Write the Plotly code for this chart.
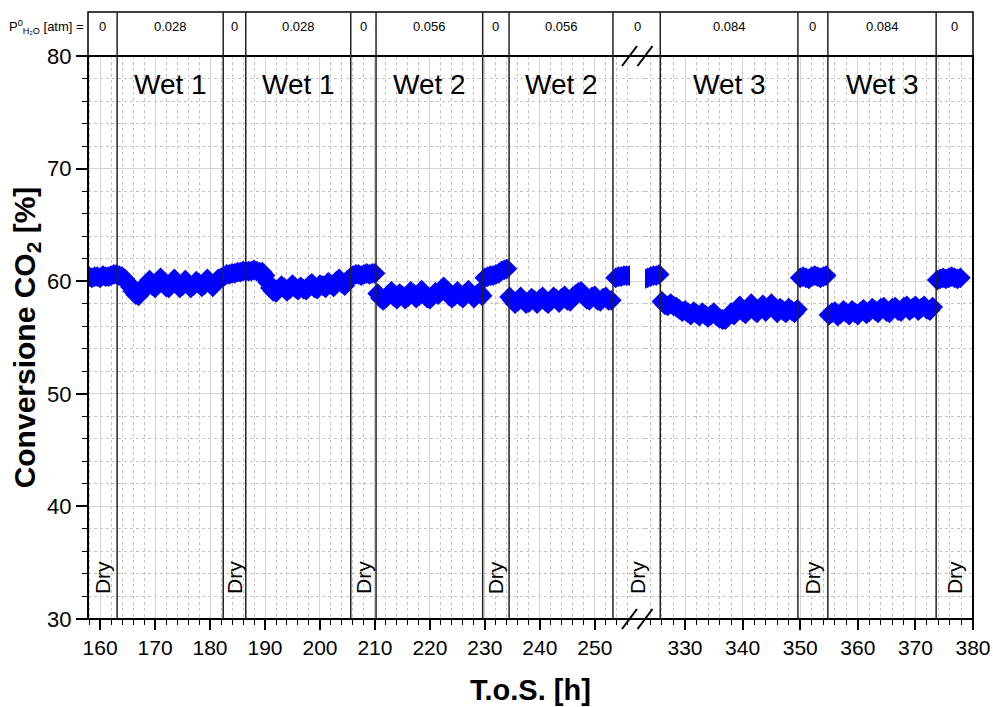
import plotly.graph_objects as go

# ---------------- data ----------------
# phase boundaries (h): left axis segment and right axis segment (broken axis)
bounds_left = [163.1, 182.4, 186.5, 205.6, 210.2, 229.6, 234.4, 253.3]
bounds_right = [325.7, 349.6, 354.8, 373.6]
x_left_range = [157.8, 256.4]
x_right_range = [323.05, 380.0]

p_labels = ["0", "0.028", "0", "0.028", "0", "0.056", "0", "0.056", "0",
            "0.084", "0", "0.084", "0"]
phase_labels = ["Dry", "Wet 1", "Dry", "Wet 1", "Dry", "Wet 2", "Dry", "Wet 2",
                "Dry", "Wet 3", "Dry", "Wet 3", "Dry"]

SAMPLE_STEP = 0.5  # h between logged points

t0_dry0, v_dry0 = 156.0, [60.4, 60.3, 60.4, 60.5, 60.4, 60.3, 60.4, 60.4, 60.3, 60.5,
                          60.4, 60.4, 60.5, 60.6, 60.6]
t0_wet1a, v_wet1a = 163.5, [60.5, 60.4, 60.2, 59.9, 59.5, 59.1, 58.8, 58.7, 59.0, 59.4,
                            59.8, 60.1, 59.6, 59.4, 59.9, 60.3, 59.9, 59.5, 59.4, 59.8,
                            60.2, 59.8, 59.4, 59.6, 60.1, 59.7, 59.4, 59.6, 60.0, 59.8,
                            59.5, 59.7, 60.2, 59.8, 59.5, 59.9, 60.2, 60.3, 60.4]
t0_dry1, v_dry1 = 183.0, [60.6, 60.6, 60.7, 60.7, 60.8, 60.8, 60.9, 60.9]
t0_wet1b, v_wet1b = 187.0, [60.9, 60.9, 61.0, 60.9, 60.8, 60.8, 60.5, 59.9, 59.4, 59.1,
                            59.0, 59.3, 59.6, 59.4, 59.1, 59.3, 59.7, 59.4, 59.2, 59.5,
                            59.3, 59.2, 59.6, 59.8, 59.4, 59.3, 59.7, 59.6, 59.4, 59.9,
                            59.7, 59.5, 60.0, 60.2, 59.8, 59.6, 60.1, 60.3]
t0_dry2, v_dry2 = 206.0, [60.5, 60.6, 60.6, 60.5, 60.6, 60.7, 60.6, 60.7, 60.7]
t0_wet2a, v_wet2a = 210.5, [58.9, 58.5, 58.3, 58.5, 58.8, 59.1, 58.6, 58.4, 58.9, 58.7,
                            58.4, 58.6, 59.1, 58.9, 58.5, 58.7, 59.2, 58.8, 58.5, 58.4,
                            58.7, 59.0, 58.8, 59.2, 59.5, 59.1, 58.7, 58.5, 58.7, 59.1,
                            58.7, 58.5, 58.8, 59.2, 58.8, 58.5, 58.8, 59.0, 58.7]
t0_dry3, v_dry3 = 230.0, [60.3, 60.4, 60.5, 60.5, 60.6, 60.7, 60.9, 61.0, 61.1]
t0_wet2b, v_wet2b = 234.5, [58.6, 58.3, 58.0, 58.2, 58.6, 58.3, 58.0, 58.1, 58.5, 58.3,
                            58.0, 58.4, 58.6, 58.2, 58.0, 58.3, 58.6, 58.4, 58.1, 58.5,
                            58.7, 58.3, 58.2, 58.6, 58.8, 59.0, 59.1, 58.7, 58.4, 58.3,
                            58.6, 58.7, 58.3, 58.2, 58.5, 58.6, 58.3, 58.3]
t0_dry4a, v_dry4a = 253.8, [60.3, 60.4, 60.4, 60.5, 60.5, 60.5]
# after the axis break
t0_dry4b, v_dry4b = 323.0, [60.2, 60.3, 60.4, 60.5, 60.5, 60.6]
t0_wet3a, v_wet3a = 326.0, [58.2, 57.9, 57.8, 58.0, 57.8, 57.7, 57.5, 57.3, 57.4, 57.2,
                            57.0, 57.3, 57.1, 56.9, 57.2, 57.0, 56.8, 57.0, 57.2, 56.9,
                            56.7, 56.6, 56.6, 56.9, 57.2, 57.0, 57.4, 57.8, 57.3, 57.1,
                            57.5, 58.0, 57.4, 57.2, 57.6, 57.9, 57.3, 57.6, 58.0, 57.5,
                            57.2, 57.6, 57.4, 57.2, 57.6, 57.4, 57.2, 57.5]
t0_dry5, v_dry5 = 350.0, [60.3, 60.4, 60.3, 60.2, 60.4, 60.5, 60.4, 60.3, 60.4, 60.5]
t0_wet3b, v_wet3b = 355.0, [57.0, 57.2, 57.3, 56.9, 57.1, 57.4, 57.2, 57.0, 57.4, 57.2,
                            57.0, 57.3, 57.5, 57.1, 57.3, 57.6, 57.4, 57.2, 57.6, 57.7,
                            57.3, 57.2, 57.6, 57.7, 57.4, 57.3, 57.7, 57.8, 57.4, 57.6,
                            57.8, 57.4, 57.6, 57.8, 57.5, 57.4, 57.7]
t0_dry6, v_dry6 = 373.8, [60.1, 60.2, 60.3, 60.2, 60.3, 60.4, 60.3, 60.2, 60.3]

left_segments = [(t0_dry0, v_dry0), (t0_wet1a, v_wet1a), (t0_dry1, v_dry1),
                 (t0_wet1b, v_wet1b), (t0_dry2, v_dry2), (t0_wet2a, v_wet2a),
                 (t0_dry3, v_dry3), (t0_wet2b, v_wet2b), (t0_dry4a, v_dry4a)]
right_segments = [(t0_dry4b, v_dry4b), (t0_wet3a, v_wet3a), (t0_dry5, v_dry5),
                  (t0_wet3b, v_wet3b), (t0_dry6, v_dry6)]


def expand(segments):
    ts, vs = [], []
    for t0, vals in segments:
        for i, v in enumerate(vals):
            ts.append(round(t0 + i * SAMPLE_STEP, 3))
            vs.append(v)
    return ts, vs


left_t, left_v = expand(left_segments)
right_t, right_v = expand(right_segments)

# ---------------- layout constants ----------------
FONT = "Liberation Sans, Arial, Helvetica, sans-serif"
BLUE = "#0000FF"
W, H = 993, 707
ML, MR, MT, MB = 88, 20, 56, 88
PW, PH = W - ML - MR, H - MT - MB
dom_left = [0.0, (630 - ML) / PW]
dom_right = [(645 - ML) / PW, 1.0]
gap_c = (dom_left[1] + dom_right[0]) / 2
table_top = 1 + 44 / PH

marker = dict(symbol="diamond", size=16, color=BLUE, line=dict(width=0))

fig = go.Figure()
fig.add_trace(go.Scatter(x=left_t, y=left_v, mode="markers", marker=marker,
                         xaxis="x", yaxis="y", showlegend=False))
fig.add_trace(go.Scatter(x=right_t, y=right_v, mode="markers", marker=marker,
                         xaxis="x2", yaxis="y", showlegend=False))
fig.add_trace(go.Scatter(x=[None], y=[None], mode="markers",
                         xaxis="x3", yaxis="y", showlegend=False, hoverinfo="skip"))

major_grid = "#d4d4d4"
minor_grid = "#c4c4c4"
tickfont = dict(family=FONT, size=21, color="black")

xcommon = dict(
    dtick=10, tick0=0, ticks="outside", ticklen=10, tickwidth=1.5, tickcolor="black",
    showline=False, zeroline=False, showgrid=True, gridcolor=major_grid, gridwidth=1.3,
    tickfont=tickfont, anchor="y", automargin=False,
    minor=dict(dtick=2, tick0=0, ticks="outside", ticklen=5, tickwidth=1.3, tickcolor="black",
               showgrid=True, gridcolor=minor_grid, griddash="dot", gridwidth=1),
)

fig.update_layout(
    width=W, height=H,
    margin=dict(l=ML, r=MR, t=MT, b=MB, autoexpand=False),
    paper_bgcolor="white", plot_bgcolor="white",
    font=dict(family=FONT, color="black"),
    xaxis=dict(domain=dom_left, range=x_left_range, **xcommon),
    xaxis2=dict(domain=dom_right, range=x_right_range, **xcommon),
    xaxis3=dict(domain=[dom_left[1], dom_right[0]], range=[0, 1], visible=True,
                showticklabels=False, ticks="", showgrid=False, zeroline=False,
                showline=False, anchor="y", automargin=False),
    yaxis=dict(
        range=[30, 80], dtick=10, tick0=0, ticks="outside", ticklen=11, tickwidth=1.5,
        tickcolor="black", showline=False, zeroline=False, showgrid=True,
        gridcolor=major_grid, gridwidth=1.3, anchor="x", automargin=False,
        tickfont=dict(family=FONT, size=22, color="black"),
        title=dict(text="<b>Conversione CO<sub>2</sub> [%]</b>",
                   font=dict(family=FONT, size=30, color="black"), standoff=2),
        minor=dict(dtick=2, tick0=0, ticks="outside", ticklen=5, tickwidth=1.3,
                   tickcolor="black", showgrid=True, gridcolor=minor_grid,
                   griddash="dot", gridwidth=1),
    ),
)

shapes = []
annotations = []

# frame of plot and of the table row
shapes.append(dict(type="rect", xref="paper", yref="paper", x0=0, x1=1, y0=0, y1=1,
                   line=dict(color="black", width=2), layer="above"))
shapes.append(dict(type="rect", xref="paper", yref="paper", x0=0, x1=1, y0=1, y1=table_top,
                   line=dict(color="black", width=1.5), layer="above"))

# phase boundary lines
for b in bounds_left:
    shapes.append(dict(type="line", xref="x", yref="paper", x0=b, x1=b, y0=0, y1=table_top,
                       line=dict(color="#222222", width=1.5), layer="above"))
for b in bounds_right:
    shapes.append(dict(type="line", xref="x2", yref="paper", x0=b, x1=b, y0=0, y1=table_top,
                       line=dict(color="#222222", width=1.5), layer="above"))

# break marks "//" at bottom and top
dxp, dyp = 7.5 / PW, 10 / PH
for yc in (0, 1):
    for off in (-8.0, 7.5):
        xc = gap_c + off / PW
        shapes.append(dict(type="line", xref="paper", yref="paper",
                           x0=xc - dxp, y0=yc - dyp, x1=xc + dxp, y1=yc + dyp,
                           line=dict(color="black", width=2), layer="above"))

# cells: (xref, x center) for each of the 13 phases
edges_left = [x_left_range[0]] + bounds_left
cells = []
for i in range(len(edges_left) - 1):
    cells.append(("x", (edges_left[i] + edges_left[i + 1]) / 2))
cells.append(("paper", gap_c))
edges_right = bounds_right + [x_right_range[1]]
for i in range(len(edges_right) - 1):
    cells.append(("x2", (edges_right[i] + edges_right[i + 1]) / 2))

y_table = 1 + 29 / PH
y_wet = (MT + PH - 85) / PH
y_dry = (MT + PH - 596) / PH
for (xr, xc), pl, ph in zip(cells, p_labels, phase_labels):
    annotations.append(dict(xref=xr, yref="paper", x=xc, y=y_table, text=pl, showarrow=False,
                            font=dict(family=FONT, size=13, color="black"),
                            xanchor="center", yanchor="middle"))
    if ph == "Dry":
        annotations.append(dict(xref=xr, yref="paper", x=xc, y=y_dry, text=ph, showarrow=False,
                                textangle=-90, font=dict(family=FONT, size=21, color="black"),
                                xanchor="center", yanchor="bottom"))
    else:
        annotations.append(dict(xref=xr, yref="paper", x=xc, y=y_wet, text=ph, showarrow=False,
                                font=dict(family=FONT, size=28, color="black"),
                                xanchor="center", yanchor="middle"))

annotations.append(dict(xref="paper", yref="paper", x=-0.002, y=y_table,
                        text="P<sup>0</sup><sub>H₂O</sub> [atm] =", showarrow=False,
                        font=dict(family=FONT, size=13, color="black"),
                        xanchor="right", yanchor="middle"))
annotations.append(dict(xref="paper", yref="paper", x=0.5, y=(MT + PH - 690) / PH,
                        text="<b>T.o.S. [h]</b>", showarrow=False,
                        font=dict(family=FONT, size=29, color="black"),
                        xanchor="center", yanchor="middle"))

fig.update_layout(shapes=shapes, annotations=annotations)
fig.write_html("out.html")
